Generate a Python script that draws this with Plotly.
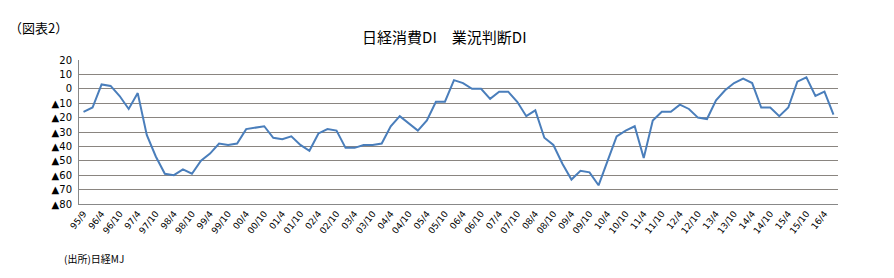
import plotly.graph_objects as go

# categories (quarterly survey), 95/9 .. 16/7
labels_all = ["95/9"]
for y in range(96, 117):
    for m in (1, 4, 7, 10):
        labels_all.append(f"{y % 100:02d}/{m}")
labels_all = labels_all[:84]

values = [-16, -13, 3, 2, -5, -14, -3, -32, -47, -59,
          -60, -56, -59, -50, -45, -38, -39, -38, -28, -27,
          -26, -34, -35, -33, -39, -43, -31, -28, -29, -41,
          -41, -39, -39, -38, -26, -19, -24, -29, -22, -9,
          -9, 6, 4, 0, 0, -7, -2, -2, -9, -19,
          -15, -34, -39, -52, -63, -57, -58, -67, -50, -33,
          -29, -26, -48, -22, -16, -16, -11, -14, -20, -21,
          -8, -1, 4, 7, 4, -13, -13, -19, -13, 5,
          8, -5, -2, -18]

y_ticks = [20, 10, 0, -10, -20, -30, -40, -50, -60, -70, -80]
y_ticktext = [str(v) if v >= 0 else "▲" + str(-v) for v in y_ticks]

x_idx = list(range(len(values)))
tick_idx = x_idx[::2]
tick_txt = [labels_all[i] for i in tick_idx]

fig = go.Figure()
fig.add_trace(go.Scatter(x=x_idx, y=values, mode="lines",
                         line=dict(color="#4A7EBB", width=2), showlegend=False,
                         hoverinfo="skip"))

fig.update_layout(
    width=894, height=278,
    margin=dict(l=79, r=56, t=60, b=74),
    paper_bgcolor="white", plot_bgcolor="white",
    font=dict(family="DejaVu Sans, Verdana, sans-serif", size=9, color="#000"),
    title=dict(text="日経消費DI　業況判断DI", x=0.497, xanchor="center",
               y=0.865, yanchor="middle",
               font=dict(family="Noto Sans CJK JP", size=15, color="#000")),
    xaxis=dict(range=[-0.5, 83.5], tickmode="array", tickvals=tick_idx,
               ticktext=tick_txt, tickangle=-52, showgrid=False,
               showline=True, linecolor="#888", linewidth=1, ticks="",
               zeroline=False, fixedrange=True,
               tickfont=dict(family="DejaVu Sans, Verdana", size=9)),
    yaxis=dict(range=[-80, 20], tickmode="array", tickvals=y_ticks,
               ticktext=y_ticktext, showgrid=True, gridcolor="#8a8580",
               gridwidth=1, showline=True, linecolor="#888", linewidth=1,
               mirror=False, zeroline=False, ticks="", fixedrange=True,
               tickfont=dict(family="DejaVu Sans, Verdana", size=10),
               ticklabelstandoff=4),
    annotations=[
        dict(text="（図表2）", x=0, y=1, xref="paper", yref="paper",
             xshift=-72, yshift=33, xanchor="left", yanchor="middle",
             showarrow=False,
             font=dict(family="Noto Sans CJK JP", size=13, color="#000")),
        dict(text="(出所)日経MJ", x=0, y=0, xref="paper", yref="paper",
             xshift=-17, yshift=-54, xanchor="left", yanchor="middle",
             showarrow=False,
             font=dict(family="Noto Sans CJK JP", size=10, color="#000")),
    ],
)

fig.write_html("out.html")
